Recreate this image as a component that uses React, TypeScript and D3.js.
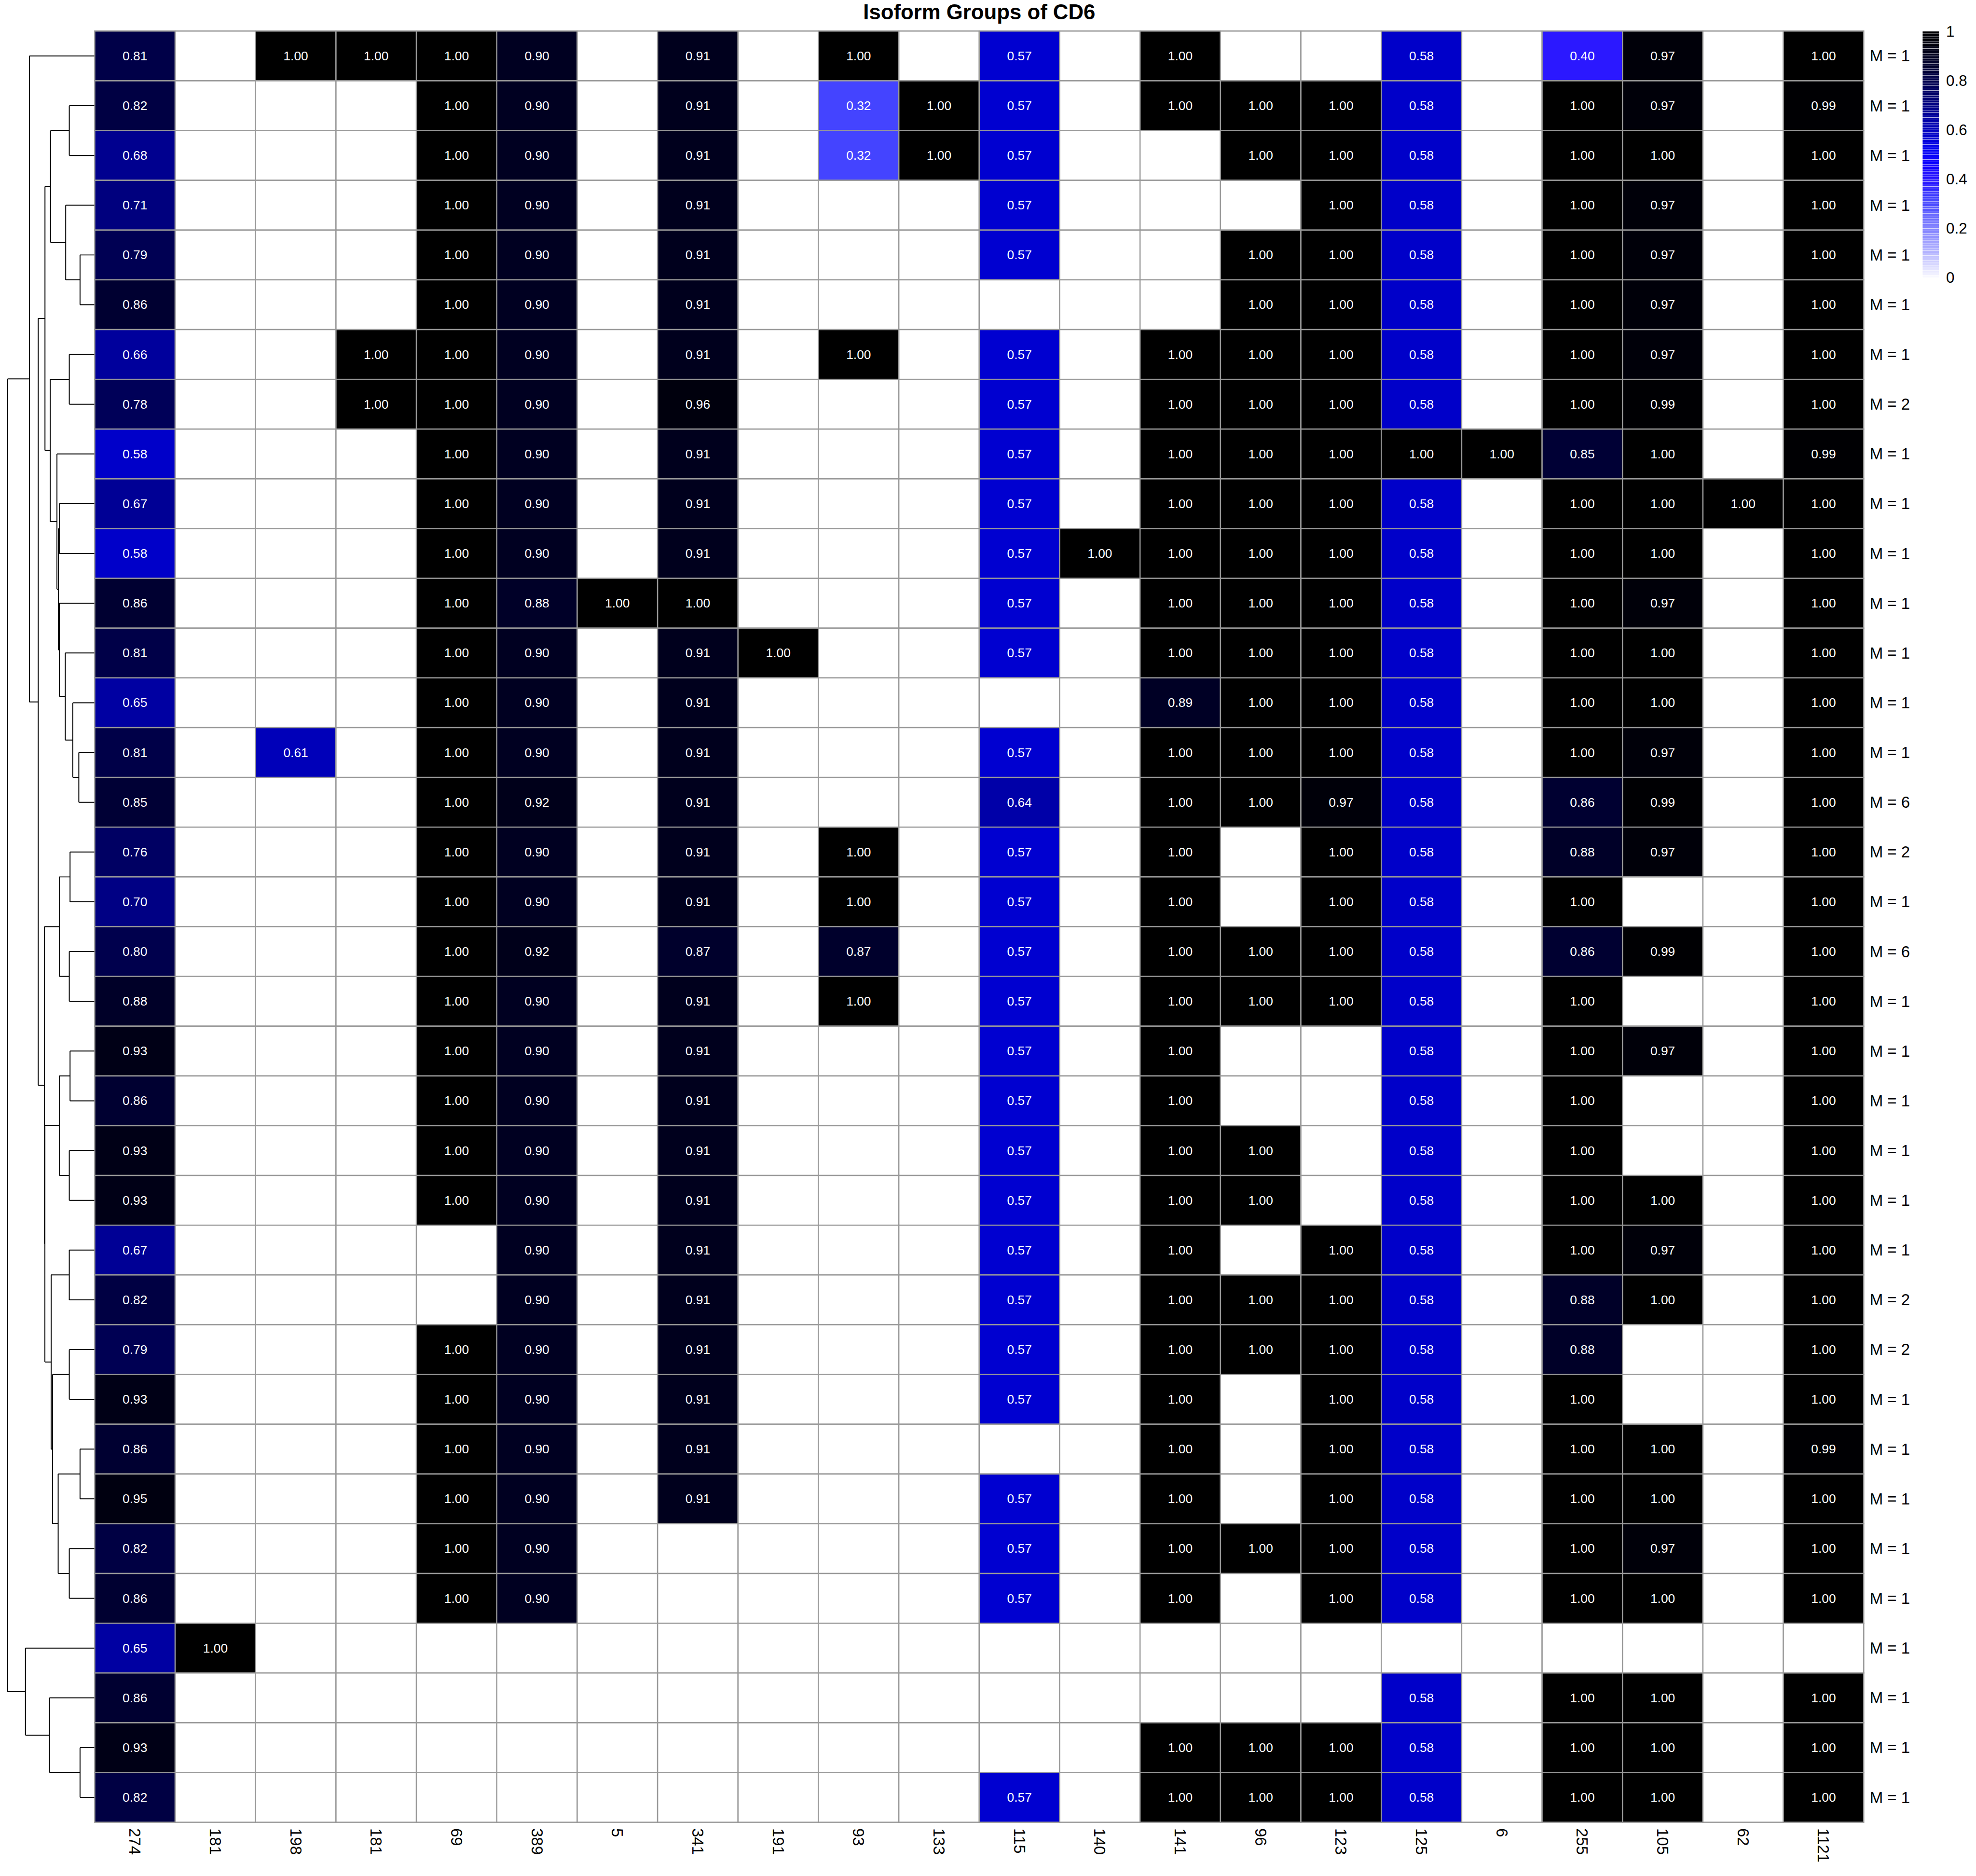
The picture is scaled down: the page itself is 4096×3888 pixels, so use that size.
import React, { useEffect } from 'react';
import * as d3 from 'd3';

// column labels (isoform group sizes), left to right
const COLUMNS = ['274', '181', '198', '181', '69', '389', '5', '341', '191', '93', '133', '115', '140', '141', '96', '123', '125', '6', '255', '105', '62', '1121'];

const _ = null;
// one row per isoform, top to bottom, same column order as above
const VALUES: (number | null)[][] = [
  [0.81, _, 1.00, 1.00, 1.00, 0.90, _, 0.91, _, 1.00, _, 0.57, _, 1.00, _, _, 0.58, _, 0.40, 0.97, _, 1.00],
  [0.82, _, _, _, 1.00, 0.90, _, 0.91, _, 0.32, 1.00, 0.57, _, 1.00, 1.00, 1.00, 0.58, _, 1.00, 0.97, _, 0.99],
  [0.68, _, _, _, 1.00, 0.90, _, 0.91, _, 0.32, 1.00, 0.57, _, _, 1.00, 1.00, 0.58, _, 1.00, 1.00, _, 1.00],
  [0.71, _, _, _, 1.00, 0.90, _, 0.91, _, _, _, 0.57, _, _, _, 1.00, 0.58, _, 1.00, 0.97, _, 1.00],
  [0.79, _, _, _, 1.00, 0.90, _, 0.91, _, _, _, 0.57, _, _, 1.00, 1.00, 0.58, _, 1.00, 0.97, _, 1.00],
  [0.86, _, _, _, 1.00, 0.90, _, 0.91, _, _, _, _, _, _, 1.00, 1.00, 0.58, _, 1.00, 0.97, _, 1.00],
  [0.66, _, _, 1.00, 1.00, 0.90, _, 0.91, _, 1.00, _, 0.57, _, 1.00, 1.00, 1.00, 0.58, _, 1.00, 0.97, _, 1.00],
  [0.78, _, _, 1.00, 1.00, 0.90, _, 0.96, _, _, _, 0.57, _, 1.00, 1.00, 1.00, 0.58, _, 1.00, 0.99, _, 1.00],
  [0.58, _, _, _, 1.00, 0.90, _, 0.91, _, _, _, 0.57, _, 1.00, 1.00, 1.00, 1.00, 1.00, 0.85, 1.00, _, 0.99],
  [0.67, _, _, _, 1.00, 0.90, _, 0.91, _, _, _, 0.57, _, 1.00, 1.00, 1.00, 0.58, _, 1.00, 1.00, 1.00, 1.00],
  [0.58, _, _, _, 1.00, 0.90, _, 0.91, _, _, _, 0.57, 1.00, 1.00, 1.00, 1.00, 0.58, _, 1.00, 1.00, _, 1.00],
  [0.86, _, _, _, 1.00, 0.88, 1.00, 1.00, _, _, _, 0.57, _, 1.00, 1.00, 1.00, 0.58, _, 1.00, 0.97, _, 1.00],
  [0.81, _, _, _, 1.00, 0.90, _, 0.91, 1.00, _, _, 0.57, _, 1.00, 1.00, 1.00, 0.58, _, 1.00, 1.00, _, 1.00],
  [0.65, _, _, _, 1.00, 0.90, _, 0.91, _, _, _, _, _, 0.89, 1.00, 1.00, 0.58, _, 1.00, 1.00, _, 1.00],
  [0.81, _, 0.61, _, 1.00, 0.90, _, 0.91, _, _, _, 0.57, _, 1.00, 1.00, 1.00, 0.58, _, 1.00, 0.97, _, 1.00],
  [0.85, _, _, _, 1.00, 0.92, _, 0.91, _, _, _, 0.64, _, 1.00, 1.00, 0.97, 0.58, _, 0.86, 0.99, _, 1.00],
  [0.76, _, _, _, 1.00, 0.90, _, 0.91, _, 1.00, _, 0.57, _, 1.00, _, 1.00, 0.58, _, 0.88, 0.97, _, 1.00],
  [0.70, _, _, _, 1.00, 0.90, _, 0.91, _, 1.00, _, 0.57, _, 1.00, _, 1.00, 0.58, _, 1.00, _, _, 1.00],
  [0.80, _, _, _, 1.00, 0.92, _, 0.87, _, 0.87, _, 0.57, _, 1.00, 1.00, 1.00, 0.58, _, 0.86, 0.99, _, 1.00],
  [0.88, _, _, _, 1.00, 0.90, _, 0.91, _, 1.00, _, 0.57, _, 1.00, 1.00, 1.00, 0.58, _, 1.00, _, _, 1.00],
  [0.93, _, _, _, 1.00, 0.90, _, 0.91, _, _, _, 0.57, _, 1.00, _, _, 0.58, _, 1.00, 0.97, _, 1.00],
  [0.86, _, _, _, 1.00, 0.90, _, 0.91, _, _, _, 0.57, _, 1.00, _, _, 0.58, _, 1.00, _, _, 1.00],
  [0.93, _, _, _, 1.00, 0.90, _, 0.91, _, _, _, 0.57, _, 1.00, 1.00, _, 0.58, _, 1.00, _, _, 1.00],
  [0.93, _, _, _, 1.00, 0.90, _, 0.91, _, _, _, 0.57, _, 1.00, 1.00, _, 0.58, _, 1.00, 1.00, _, 1.00],
  [0.67, _, _, _, _, 0.90, _, 0.91, _, _, _, 0.57, _, 1.00, _, 1.00, 0.58, _, 1.00, 0.97, _, 1.00],
  [0.82, _, _, _, _, 0.90, _, 0.91, _, _, _, 0.57, _, 1.00, 1.00, 1.00, 0.58, _, 0.88, 1.00, _, 1.00],
  [0.79, _, _, _, 1.00, 0.90, _, 0.91, _, _, _, 0.57, _, 1.00, 1.00, 1.00, 0.58, _, 0.88, _, _, 1.00],
  [0.93, _, _, _, 1.00, 0.90, _, 0.91, _, _, _, 0.57, _, 1.00, _, 1.00, 0.58, _, 1.00, _, _, 1.00],
  [0.86, _, _, _, 1.00, 0.90, _, 0.91, _, _, _, _, _, 1.00, _, 1.00, 0.58, _, 1.00, 1.00, _, 0.99],
  [0.95, _, _, _, 1.00, 0.90, _, 0.91, _, _, _, 0.57, _, 1.00, _, 1.00, 0.58, _, 1.00, 1.00, _, 1.00],
  [0.82, _, _, _, 1.00, 0.90, _, _, _, _, _, 0.57, _, 1.00, 1.00, 1.00, 0.58, _, 1.00, 0.97, _, 1.00],
  [0.86, _, _, _, 1.00, 0.90, _, _, _, _, _, 0.57, _, 1.00, _, 1.00, 0.58, _, 1.00, 1.00, _, 1.00],
  [0.65, 1.00, _, _, _, _, _, _, _, _, _, _, _, _, _, _, _, _, _, _, _, _],
  [0.86, _, _, _, _, _, _, _, _, _, _, _, _, _, _, _, 0.58, _, 1.00, 1.00, _, 1.00],
  [0.93, _, _, _, _, _, _, _, _, _, _, _, _, 1.00, 1.00, 1.00, 0.58, _, 1.00, 1.00, _, 1.00],
  [0.82, _, _, _, _, _, _, _, _, _, _, 0.57, _, 1.00, 1.00, 1.00, 0.58, _, 1.00, 1.00, _, 1.00],
];

const ROW_LABELS = [1, 1, 1, 1, 1, 1, 1, 2, 1, 1, 1, 1, 1, 1, 1, 6, 2, 1, 6, 1, 1, 1, 1, 1, 1, 2, 2, 1, 1, 1, 1, 1, 1, 1, 1, 1].map(m => `M = ${m}`);

// row dendrogram: merge height (root = 1), leaves are row indices
type TreeNode = { h: number; leaf?: number; children?: TreeNode[] };
const lf = (i: number): TreeNode => ({ h: 0, leaf: i });
const nd = (h: number, a: TreeNode, b: TreeNode): TreeNode => ({ h, children: [a, b] });

const TREE = nd(1.0,
  nd(0.748,
    lf(0),
    nd(0.647,
      nd(0.569,
        nd(0.505,
          nd(0.289, lf(1), lf(2)),
          nd(0.330, lf(3), nd(0.165, lf(4), lf(5)))),
        nd(0.509,
          nd(0.289, lf(6), lf(7)),
          nd(0.431,
            lf(8),
            nd(0.414,
              nd(0.404, lf(9), lf(10)),
              nd(0.403, lf(11),
                nd(0.335, lf(12), nd(0.248, lf(13), nd(0.179, lf(14), lf(15))))))))),
      nd(0.575,
        nd(0.404,
          nd(0.280, lf(16), lf(17)),
          nd(0.289, lf(18), lf(19))),
        nd(0.570,
          nd(0.404,
            nd(0.280, lf(20), lf(21)),
            nd(0.289, lf(22), lf(23))),
          nd(0.498,
            nd(0.289, lf(24), lf(25)),
            nd(0.482,
              nd(0.289, lf(26), lf(27)),
              nd(0.417,
                nd(0.165, lf(28), lf(29)),
                nd(0.289, lf(30), lf(31))))))))),
  nd(0.794,
    lf(32),
    nd(0.518, lf(33), nd(0.165, lf(34), lf(35)))));

const COLOR_STOPS = [0, 0.1, 0.2, 0.32, 0.40, 0.46, 0.52, 0.575, 0.64, 0.68, 0.75, 0.81, 0.87, 0.93, 1];
const COLOR_RANGE = ['#fbfbff', '#b8b8ff', '#8484ff', '#4444ff', '#2b18ff', '#1000ff', '#0000f4', '#0000cc', '#0000a8', '#00008f', '#000068', '#000048', '#00002c', '#000016', '#000000'];
const LEGEND_TICKS = [0, 0.2, 0.4, 0.6, 0.8, 1];

const FONT = '"Liberation Sans", Arial, Helvetica, sans-serif';

const App = () => {
  useEffect(() => {
    document.body.style.margin = '0';
    document.body.style.overflow = 'hidden';
  }, []);

  // everything is laid out in the reference's 4965 x 4713 units, viewBox scales it down
  const W = 4965;
  const H = 4713;
  const left = 238;
  const right = 4683;
  const top = 78;
  const bottom = 4578;

  const x = d3.scaleBand<number>().domain(d3.range(COLUMNS.length)).range([left, right]);
  const y = d3.scaleBand<number>().domain(d3.range(VALUES.length)).range([top, bottom]);
  const color = d3.scaleLinear<string>().domain(COLOR_STOPS).range(COLOR_RANGE).clamp(true);
  const fmt = d3.format('.2f');

  // dendrogram
  const hx = d3.scaleLinear().domain([0, 1]).range([237, 19]);
  const root = d3.hierarchy<TreeNode>(TREE, d => d.children);
  root.eachAfter((n: any) => {
    if (n.children) n.yy = d3.mean(n.children, (c: any) => c.yy);
    else n.yy = (y(n.data.leaf) as number) + y.bandwidth() / 2;
  });
  const segs: string[] = [];
  root.each((n: any) => {
    if (!n.children) return;
    const nx = hx(n.data.h);
    const ys = n.children.map((c: any) => c.yy);
    segs.push(`M${nx},${d3.min(ys)}V${d3.max(ys)}`);
    n.children.forEach((c: any) => {
      segs.push(`M${nx},${c.yy}H${hx(c.data.h)}`);
    });
  });

  // legend
  const ly = d3.scaleLinear().domain([0, 1]).range([698, 79]);
  const bands = d3.range(100).map(i => [i / 100, (i + 1) / 100]);

  return (
    <svg width={4096} height={3888} viewBox={`0 0 ${W} ${H}`} style={{ display: 'block', background: '#ffffff' }}>
      <rect x={0} y={0} width={W} height={H} fill="#ffffff" />
      <text x={(left + right) / 2} y={48} textAnchor="middle" fontFamily={FONT} fontWeight="bold" fontSize={53} fill="#000">
        Isoform Groups of CD6
      </text>

      <g>
        {VALUES.map((row, r) =>
          row.map((v, c) => (
            <rect
              key={`c${r}-${c}`}
              x={x(c)}
              y={y(r)}
              width={x.bandwidth()}
              height={y.bandwidth()}
              fill={v == null ? '#ffffff' : color(v)}
              stroke="#999999"
              strokeWidth={3}
            />
          ))
        )}
      </g>
      <g fontFamily={FONT} fontSize={32} fill="#ffffff" textAnchor="middle">
        {VALUES.map((row, r) =>
          row.map((v, c) =>
            v == null ? null : (
              <text key={`t${r}-${c}`} x={(x(c) as number) + x.bandwidth() / 2} y={(y(r) as number) + y.bandwidth() / 2} dominantBaseline="central">
                {fmt(v)}
              </text>
            )
          )
        )}
      </g>

      <path d={segs.join('')} fill="none" stroke="#000" strokeWidth={2.4} />

      <g fontFamily={FONT} fontSize={40} fill="#000">
        {ROW_LABELS.map((lab, r) => (
          <text key={`r${r}`} x={right + 15} y={(y(r) as number) + y.bandwidth() / 2} dominantBaseline="central">
            {lab}
          </text>
        ))}
        {COLUMNS.map((lab, c) => (
          <text
            key={`k${c}`}
            transform={`translate(${(x(c) as number) + x.bandwidth() / 2},${bottom + 15}) rotate(90)`}
            dominantBaseline="central"
          >
            {lab}
          </text>
        ))}
      </g>

      <g>
        {bands.map(([a, b], i) => (
          <rect key={`l${i}`} x={4831} y={ly(b)} width={41} height={Math.max(0, ly(a) - ly(b) - 0.8)} fill={color((a + b) / 2)} />
        ))}
        {LEGEND_TICKS.map(t => (
          <text key={`lt${t}`} x={4890} y={ly(t)} dominantBaseline="central" fontFamily={FONT} fontSize={38} fill="#000">
            {t}
          </text>
        ))}
      </g>
    </svg>
  );
};

export default App;
